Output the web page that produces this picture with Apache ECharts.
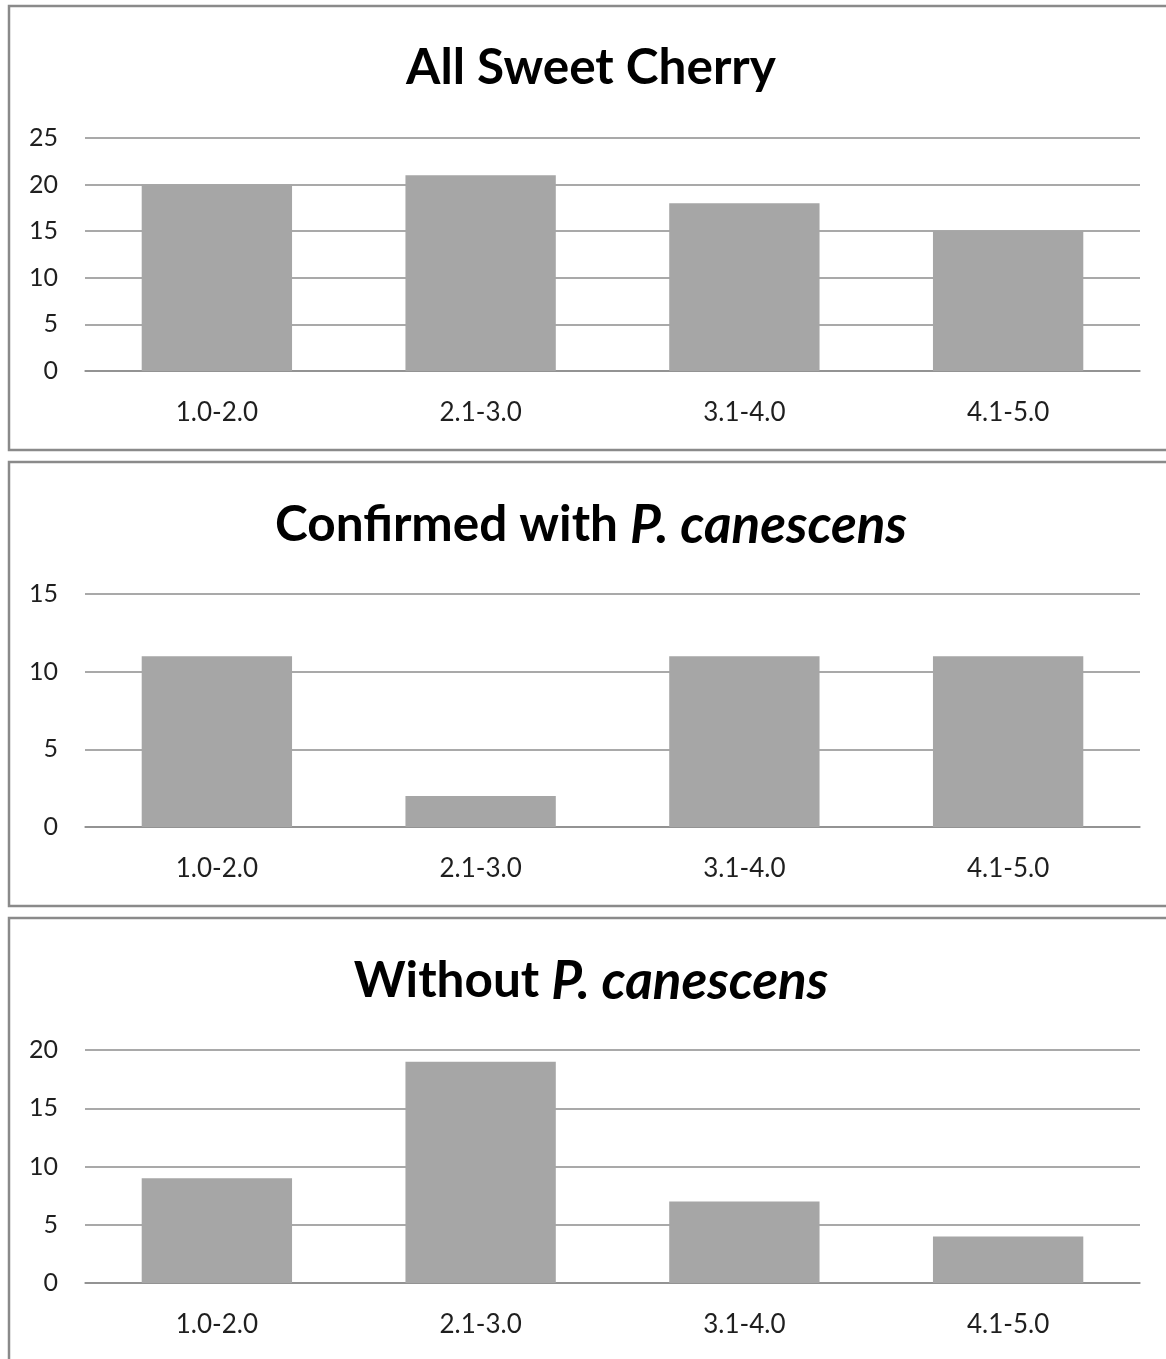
<!DOCTYPE html>
<html>
<head>
<meta charset="utf-8">
<script src="https://cdn.jsdelivr.net/npm/echarts@6/dist/echarts.min.js"></script>
<style>
  html, body { margin: 0; padding: 0; background: #fff; }
  #chart { width: 1166px; height: 1359px; }
</style>
</head>
<body>
<div id="chart"></div>
<script>
// Severity class ranges shared by all three panels
const categories = ['1.0-2.0', '2.1-3.0', '3.1-4.0', '4.1-5.0'];

// Counts per severity class
const allSweetCherry = [20, 21, 18, 15];
const confirmedWithPC = [11, 2, 11, 11];
const withoutPC = [9, 19, 7, 4];

// Value-axis ranges per panel
const axisMax = [25, 15, 20];
const axisStep = 5;

const FONT = 'Lato, "Open Sans", sans-serif';
const GRID_COLOR = '#8c8c8c';
const BAR_COLOR = '#a6a6a6';

const panelTops = [6, 462, 918];
const gridTops = [138, 594, 1050];
const gridHeight = 233;

const seriesData = [allSweetCherry, confirmedWithPC, withoutPC];

const chart = echarts.init(document.getElementById('chart'), null, { renderer: 'canvas' });

const grids = gridTops.map(t => ({ left: 85, right: 26, top: t, height: gridHeight, containLabel: false }));

const xAxes = grids.map((g, i) => ({
  type: 'category',
  gridIndex: i,
  data: categories,
  axisLine: { show: true, lineStyle: { color: GRID_COLOR, width: 1.5 } },
  axisTick: { show: false },
  axisLabel: { color: '#1f1f1f', fontFamily: FONT, fontSize: 26, margin: 29 }
}));

const yAxes = grids.map((g, i) => ({
  type: 'value',
  gridIndex: i,
  min: 0,
  max: axisMax[i],
  interval: axisStep,
  axisLine: { show: false },
  axisTick: { show: false },
  splitLine: { show: true, lineStyle: { color: GRID_COLOR, width: 1.5 } },
  axisLabel: { color: '#1f1f1f', fontFamily: FONT, fontSize: 25, margin: 27 }
}));

const series = seriesData.map((d, i) => ({
  type: 'bar',
  xAxisIndex: i,
  yAxisIndex: i,
  data: d,
  barCategoryGap: '43%',
  itemStyle: { color: BAR_COLOR },
  silent: true
}));

const titleRich = {
  b: { fontFamily: FONT, fontWeight: 'bold', fontSize: 49.5, color: '#000' },
  i: { fontFamily: FONT, fontWeight: 'bold', fontStyle: 'italic', fontSize: 53, color: '#000' }
};

const titles = [
  '{b|All Sweet Cherry}',
  '{b|Confirmed with }{i|P. canescens}',
  '{b|Without }{i|P. canescens}'
].map((txt, i) => ({
  text: txt,
  left: 586,
  textAlign: 'center',
  top: panelTops[i] + 32,
  textStyle: { rich: titleRich }
}));

// Panel frames
const frames = panelTops.map(t => ({
  type: 'rect',
  shape: { x: 9, y: t, width: 1170, height: 444 },
  style: { fill: 'none', stroke: '#8a8a8a', lineWidth: 2.5 },
  silent: true,
  z: 100
}));

chart.setOption({
  animation: false,
  backgroundColor: '#fff',
  title: titles,
  grid: grids,
  xAxis: xAxes,
  yAxis: yAxes,
  series: series,
  graphic: frames
});
</script>
</body>
</html>
